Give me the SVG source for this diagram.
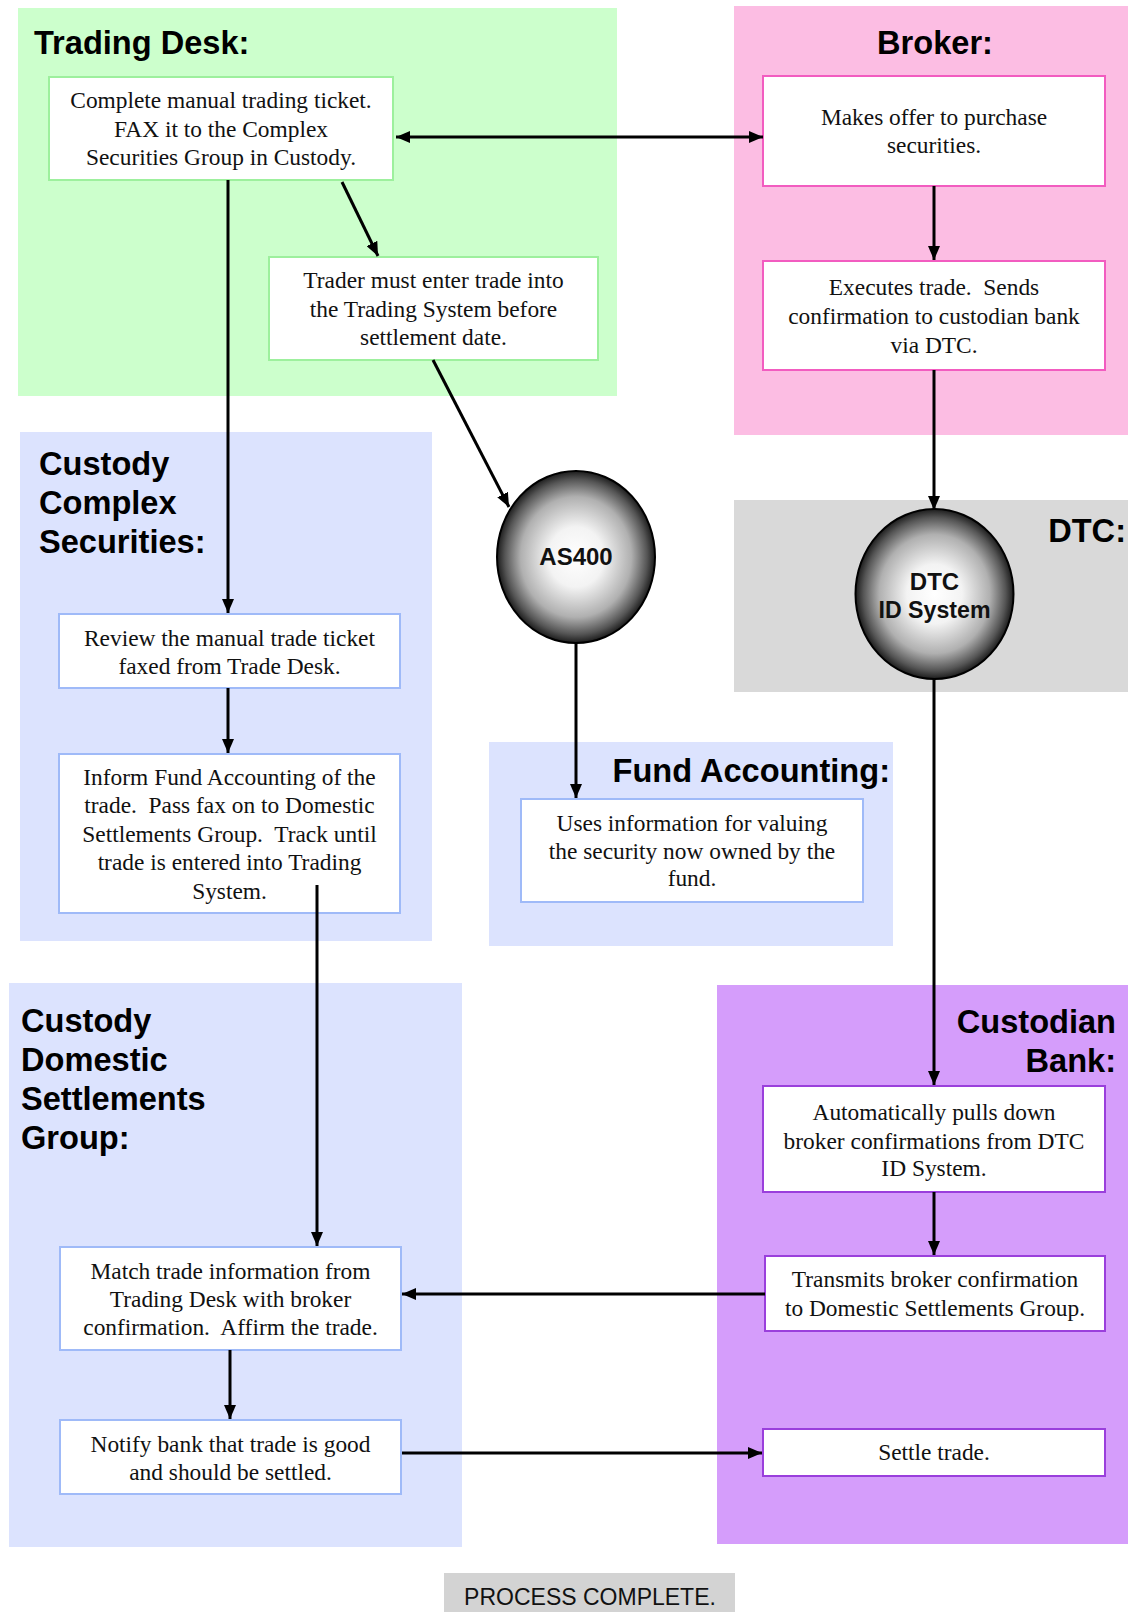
<svg xmlns="http://www.w3.org/2000/svg" width="1128" height="1612" viewBox="0 0 1128 1612">
  <style>
    .lane-title { font-family: "Liberation Sans", Arial, sans-serif; font-weight: bold; font-size: 32.6px; fill: #000; }
    .step { stroke-width: 2; fill: #fff; }
    .step-green { stroke: #9df09d; }
    .step-pink { stroke: #f25cc0; }
    .step-blue { stroke: #9fbaf8; }
    .step-purple { stroke: #9a3fdc; }
    .step-text { font-family: "Liberation Serif", "Times New Roman", serif; font-size: 23.4px; fill: #111; text-anchor: middle; white-space: pre; }
    .sys-text { font-family: "Liberation Sans", Arial, sans-serif; font-weight: bold; font-size: 24px; fill: #111; text-anchor: middle; }
    .flow-arrow { stroke: #000; stroke-width: 3; fill: none; marker-end: url(#arrow); }
  </style>
  <defs>
    <marker id="arrow" viewBox="0 0 14 12" refX="14" refY="6" markerWidth="14" markerHeight="12" markerUnits="userSpaceOnUse" orient="auto-start-reverse">
      <path d="M0,0 L14,6 L0,12 z" fill="#000"/>
    </marker>
    <radialGradient id="sphere" cx="50%" cy="50%" r="50%">
      <stop offset="0" stop-color="#ffffff"/>
      <stop offset="0.35" stop-color="#f3f3f3"/>
      <stop offset="0.7" stop-color="#b0b0b0"/>
      <stop offset="0.9" stop-color="#555555"/>
      <stop offset="1" stop-color="#1c1c1c"/>
    </radialGradient>
  </defs>

  <rect width="1128" height="1612" fill="#fff"/>

  <!-- swimlane areas -->
  <g id="lanes">
    <rect id="lane-trading-desk" x="18" y="8" width="599" height="388" fill="#ccffcc"/>
    <rect id="lane-broker" x="734" y="6" width="394" height="429" fill="#fcbde3"/>
    <rect id="lane-complex" x="20" y="432" width="412" height="509" fill="#dce3fe"/>
    <rect id="lane-fund" x="489" y="742" width="404" height="204" fill="#dce3fe"/>
    <rect id="lane-dtc" x="734" y="500" width="394" height="192" fill="#d9d9d9"/>
    <rect id="lane-domestic" x="9" y="983" width="453" height="564" fill="#dce3fe"/>
    <rect id="lane-custodian" x="717" y="985" width="411" height="559" fill="#d59dfb"/>
  </g>

  <g id="lane-titles">
    <text class="lane-title" x="34" y="54">Trading Desk:</text>
    <text class="lane-title" x="935" y="54" text-anchor="middle">Broker:</text>
    <text class="lane-title" x="39" y="475">Custody</text>
    <text class="lane-title" x="39" y="514">Complex</text>
    <text class="lane-title" x="39" y="553">Securities:</text>
    <text class="lane-title" x="1126" y="542" text-anchor="end">DTC:</text>
    <text class="lane-title" x="890" y="782" text-anchor="end">Fund Accounting:</text>
    <text class="lane-title" x="21" y="1032">Custody</text>
    <text class="lane-title" x="21" y="1071">Domestic</text>
    <text class="lane-title" x="21" y="1110">Settlements</text>
    <text class="lane-title" x="21" y="1149">Group:</text>
    <text class="lane-title" x="1116" y="1033" text-anchor="end">Custodian</text>
    <text class="lane-title" x="1116" y="1072" text-anchor="end">Bank:</text>
  </g>

  <!-- process steps -->
  <g id="ticket">
    <rect class="step step-green" x="49" y="77" width="344" height="103"/>
    <text class="step-text" x="221" y="108">Complete manual trading ticket.</text>
    <text class="step-text" x="221" y="137">FAX it to the Complex</text>
    <text class="step-text" x="221" y="165">Securities Group in Custody.</text>
  </g>
  <g id="trader-entry">
    <rect class="step step-green" x="269" y="257" width="329" height="103"/>
    <text class="step-text" x="433.5" y="288">Trader must enter trade into</text>
    <text class="step-text" x="433.5" y="317">the Trading System before</text>
    <text class="step-text" x="433.5" y="345">settlement date.</text>
  </g>
  <g id="broker-offer">
    <rect class="step step-pink" x="763" y="76" width="342" height="110"/>
    <text class="step-text" x="934" y="125">Makes offer to purchase</text>
    <text class="step-text" x="934" y="153">securities.</text>
  </g>
  <g id="broker-execute">
    <rect class="step step-pink" x="763" y="261" width="342" height="109"/>
    <text class="step-text" x="934" y="295">Executes trade.  Sends</text>
    <text class="step-text" x="934" y="324">confirmation to custodian bank</text>
    <text class="step-text" x="934" y="353">via DTC.</text>
  </g>
  <g id="as400">
    <ellipse cx="576" cy="557" rx="79" ry="86" fill="url(#sphere)" stroke="#000" stroke-width="2"/>
    <text class="sys-text" x="576" y="565">AS400</text>
  </g>
  <g id="dtc-id">
    <ellipse cx="934.5" cy="594" rx="79" ry="85" fill="url(#sphere)" stroke="#000" stroke-width="2"/>
    <text class="sys-text" x="934.5" y="590">DTC</text>
    <text class="sys-text" x="934.5" y="618" textLength="112" lengthAdjust="spacingAndGlyphs">ID System</text>
  </g>
  <g id="review-ticket">
    <rect class="step step-blue" x="59" y="614" width="341" height="74"/>
    <text class="step-text" x="229.5" y="646">Review the manual trade ticket</text>
    <text class="step-text" x="229.5" y="674">faxed from Trade Desk.</text>
  </g>
  <g id="inform-fund">
    <rect class="step step-blue" x="59" y="754" width="341" height="159"/>
    <text class="step-text" x="229.5" y="785">Inform Fund Accounting of the</text>
    <text class="step-text" x="229.5" y="813">trade.  Pass fax on to Domestic</text>
    <text class="step-text" x="229.5" y="842">Settlements Group.  Track until</text>
    <text class="step-text" x="229.5" y="870">trade is entered into Trading</text>
    <text class="step-text" x="229.5" y="899">System.</text>
  </g>
  <g id="fund-valuation">
    <rect class="step step-blue" x="521" y="799" width="342" height="103"/>
    <text class="step-text" x="692" y="831">Uses information for valuing</text>
    <text class="step-text" x="692" y="859">the security now owned by the</text>
    <text class="step-text" x="692" y="886">fund.</text>
  </g>
  <g id="pull-confirmations">
    <rect class="step step-purple" x="763" y="1086" width="342" height="106"/>
    <text class="step-text" x="934" y="1120">Automatically pulls down</text>
    <text class="step-text" x="934" y="1149">broker confirmations from DTC</text>
    <text class="step-text" x="934" y="1176">ID System.</text>
  </g>
  <g id="transmit-confirmation">
    <rect class="step step-purple" x="765" y="1256" width="340" height="75"/>
    <text class="step-text" x="935" y="1287">Transmits broker confirmation</text>
    <text class="step-text" x="935" y="1316">to Domestic Settlements Group.</text>
  </g>
  <g id="settle-trade">
    <rect class="step step-purple" x="763" y="1429" width="342" height="47"/>
    <text class="step-text" x="934" y="1460">Settle trade.</text>
  </g>
  <g id="match-trade">
    <rect class="step step-blue" x="60" y="1247" width="341" height="103"/>
    <text class="step-text" x="230.5" y="1279">Match trade information from</text>
    <text class="step-text" x="230.5" y="1307">Trading Desk with broker</text>
    <text class="step-text" x="230.5" y="1335">confirmation.  Affirm the trade.</text>
  </g>
  <g id="notify-bank">
    <rect class="step step-blue" x="60" y="1420" width="341" height="74"/>
    <text class="step-text" x="230.5" y="1452">Notify bank that trade is good</text>
    <text class="step-text" x="230.5" y="1480">and should be settled.</text>
  </g>
  <g id="process-complete">
    <rect x="444" y="1573" width="291" height="40" fill="#d3d3d3"/>
    <text x="590" y="1605" text-anchor="middle" font-family="Liberation Sans, Arial, sans-serif" font-size="23" fill="#111">PROCESS COMPLETE.</text>
  </g>

  <!-- connectors -->
  <g id="connectors">
    <line class="flow-arrow" x1="396" y1="137" x2="763" y2="137" marker-start="url(#arrow)"/>
    <line class="flow-arrow" x1="342" y1="182" x2="378" y2="256"/>
    <line class="flow-arrow" x1="228" y1="180" x2="228" y2="613"/>
    <line class="flow-arrow" x1="934" y1="186" x2="934" y2="260"/>
    <line class="flow-arrow" x1="934" y1="370" x2="934" y2="510"/>
    <line class="flow-arrow" x1="433" y1="360" x2="509" y2="507"/>
    <line class="flow-arrow" x1="576" y1="643" x2="576" y2="798"/>
    <line class="flow-arrow" x1="228" y1="688" x2="228" y2="753"/>
    <line class="flow-arrow" x1="317" y1="885" x2="317" y2="1246"/>
    <line class="flow-arrow" x1="934" y1="679" x2="934" y2="1085"/>
    <line class="flow-arrow" x1="934" y1="1192" x2="934" y2="1255"/>
    <line class="flow-arrow" x1="765" y1="1294" x2="402" y2="1294"/>
    <line class="flow-arrow" x1="230" y1="1350" x2="230" y2="1419"/>
    <line class="flow-arrow" x1="402" y1="1453" x2="762" y2="1453"/>
  </g>
</svg>
